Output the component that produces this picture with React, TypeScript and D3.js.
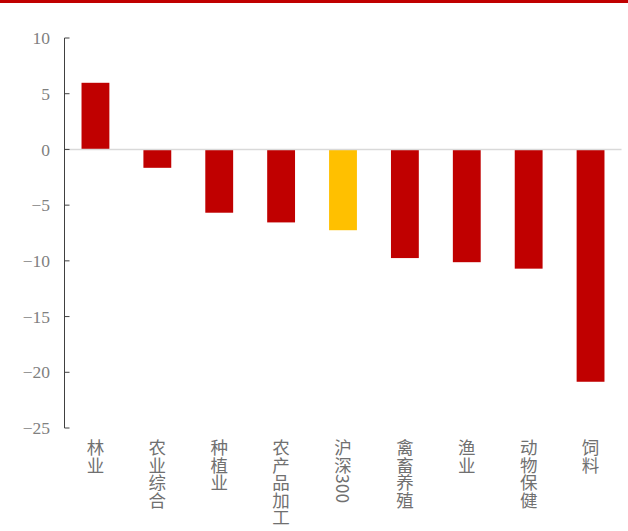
import React from "react";
import * as d3 from "d3";

// Sector returns (%)
const categories = ["林业", "农业综合", "种植业", "农产品加工", "沪深300", "禽畜养殖", "渔业", "动物保健", "饲料"];
const values = [5.98, -1.65, -5.68, -6.55, -7.25, -9.75, -10.12, -10.7, -20.85];
const highlight = "沪深300";
const yTicks = [10, 5, 0, -5, -10, -15, -20, -25];

const W = 628;
const H = 531;
const left = 64.5;
const right = 621.5;
const top = 38;
const bottom = 428;

export default function App() {
  const x = d3.scaleBand<string>().domain(categories).range([left, right]).paddingInner(0.55).paddingOuter(0.275);
  const y = d3.scaleLinear().domain([-25, 10]).range([bottom, top]);
  const fmt = (v: number) => (v < 0 ? "\u2212" + Math.abs(v) : String(v));

  return (
    <svg width={W} height={H} style={{ position: "absolute", left: 0, top: 0, background: "#fff" }}>
      <rect x={0} y={0} width={W} height={3} fill="#c00000" />
      {categories.map((c, i) => {
        const v = values[i];
        const y0 = y(0);
        const y1 = y(v);
        return (
          <rect
            key={c}
            x={x(c)}
            y={Math.min(y0, y1)}
            width={x.bandwidth()}
            height={Math.abs(y1 - y0)}
            fill={c === highlight ? "#ffc000" : "#c00000"}
          />
        );
      })}
      <line x1={left} x2={right} y1={y(0)} y2={y(0)} stroke="#d9d9d9" strokeWidth={1.5} />
      <line x1={left} x2={left} y1={top} y2={bottom} stroke="#404040" strokeWidth={1} />
      {yTicks.map((t) => (
        <g key={t}>
          <line x1={left} x2={left + 5} y1={y(t)} y2={y(t)} stroke="#404040" strokeWidth={1} />
          <text
            x={50}
            y={y(t)}
            dy="0.35em"
            textAnchor="end"
            fill="#808080"
            fontSize={17.5}
            fontFamily="'Liberation Serif', 'DejaVu Serif', serif"
          >
            {fmt(t)}
          </text>
        </g>
      ))}
      {categories.map((c) => (
        <text
          key={c}
          x={(x(c) as number) + x.bandwidth() / 2}
          y={439}
          fill="#707070"
          fontSize={17.5}
          fontFamily="'Noto Sans CJK SC', sans-serif"
          style={{ writingMode: "vertical-rl" }}
          textAnchor="start"
        >
          {c}
        </text>
      ))}
    </svg>
  );
}
